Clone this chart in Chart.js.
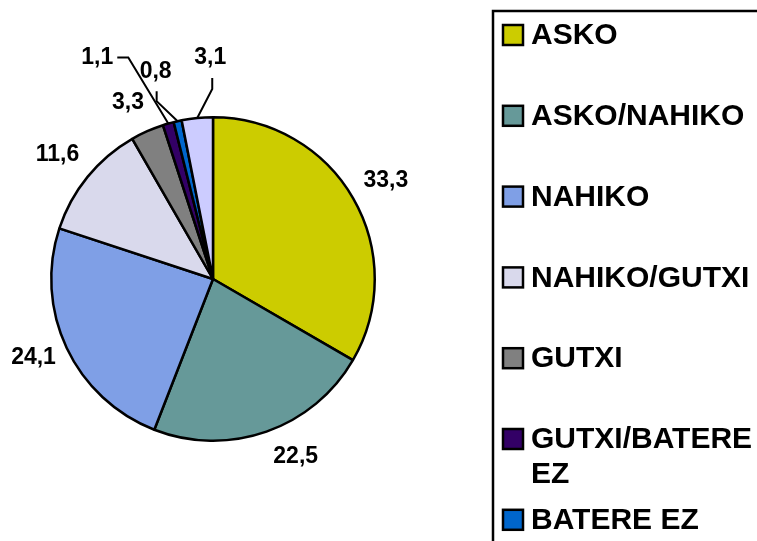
<!DOCTYPE html>
<html>
<head>
<meta charset="utf-8">
<script src="https://cdn.jsdelivr.net/npm/chart.js@4/dist/chart.umd.min.js"></script>
<style>
  html, body { margin: 0; padding: 0; background: #fff; }
  #wrap { width: 757px; height: 541px; position: relative; }
</style>
</head>
<body>
<div id="wrap"><canvas id="myChart" width="757" height="541"></canvas></div>
<script>
"use strict";

// answers, clockwise from 12 o'clock
const categories = ['ASKO', 'ASKO/NAHIKO', 'NAHIKO', 'NAHIKO/GUTXI', 'GUTXI', 'GUTXI/BATERE EZ', 'BATERE EZ', 'ED/EE'];
const percents = [33.3, 22.5, 24.1, 11.6, 3.3, 1.1, 0.8, 3.1];
const sliceColors = ['#cccc00', '#669999', '#7f9fe6', '#d9d9ec', '#808080', '#330066', '#0066cc', '#ccccff'];

const FONT = '"Liberation Sans", Arial, sans-serif';

// nudges for the plain labels, leader lines for the thin slices
const labelNudge = { 0: [-2, 2], 1: [16, -13], 2: [3, -7], 3: [1, 3], 4: [-3, 8] };
const leaders = {
	5: { elbow: [-40, -66], end: [-51, -66], text: [-71, -66] },
	6: { elbow: [-21, -20], end: [-21, -30], text: [-22, -50] },
	7: { elbow: [15, -29], end: [15, -40], text: [13, -60] }
};

const fmt = v => String(v).replace('.', ',');

const sliceLabels = {
	id: 'sliceLabels',
	afterDatasetsDraw(chart) {
		const ctx = chart.ctx;
		const arcs = chart.getDatasetMeta(0).data;
		ctx.save();
		ctx.font = 'bold 23px ' + FONT;
		ctx.fillStyle = '#000';
		ctx.strokeStyle = '#000';
		ctx.lineWidth = 2;
		ctx.textAlign = 'center';
		ctx.textBaseline = 'middle';
		arcs.forEach((arc, i) => {
			const mid = (arc.startAngle + arc.endAngle) / 2;
			const r = arc.outerRadius;
			const text = fmt(percents[i]);
			if (leaders[i]) {
				const ex = arc.x + Math.cos(mid) * r;
				const ey = arc.y + Math.sin(mid) * r;
				const L = leaders[i];
				ctx.beginPath();
				ctx.moveTo(ex, ey);
				ctx.lineTo(ex + L.elbow[0], ey + L.elbow[1]);
				ctx.lineTo(ex + L.end[0], ey + L.end[1]);
				ctx.stroke();
				ctx.fillText(text, ex + L.text[0], ey + L.text[1]);
			} else {
				const n = labelNudge[i] || [0, 0];
				const d = r + 40;
				ctx.fillText(text, arc.x + Math.cos(mid) * d + n[0], arc.y + Math.sin(mid) * d + n[1]);
			}
		});
		ctx.restore();
	}
};

// boxed legend on the right, long names wrap onto a second line
const sideLegend = {
	id: 'sideLegend',
	afterDraw(chart) {
		const ctx = chart.ctx;
		const W = chart.width;
		const boxX = 493, boxY = 11;
		ctx.save();
		ctx.lineWidth = 2.5;
		ctx.strokeStyle = '#000';
		ctx.strokeRect(boxX, boxY, W, chart.height);
		ctx.font = 'bold 30px ' + FONT;
		ctx.textBaseline = 'middle';
		ctx.textAlign = 'left';
		const textX = 531;
		const maxW = W - textX;
		categories.forEach((name, i) => {
			const y = 35 + i * 80.8;
			ctx.fillStyle = sliceColors[i];
			ctx.fillRect(503, y - 10, 20, 20);
			ctx.lineWidth = 2.5;
			ctx.strokeRect(503, y - 10, 20, 20);
			ctx.fillStyle = '#000';
			const words = name.split(' ');
			const lines = [];
			let line = '';
			words.forEach(w => {
				const t = line ? line + ' ' + w : w;
				if (line && ctx.measureText(t).width > maxW) { lines.push(line); line = w; } else { line = t; }
			});
			lines.push(line);
			lines.forEach((ln, k) => ctx.fillText(ln, textX, y + 1 + k * 35));
		});
		ctx.restore();
	}
};

const data = {
	labels: categories,
	datasets: [{
		data: percents,
		backgroundColor: sliceColors,
		borderColor: '#000',
		borderWidth: 2.5
	}]
};

const config = {
	type: 'pie',
	data: data,
	options: {
		responsive: false,
		animation: false,
		layout: { padding: { left: 50, right: 381, top: 116, bottom: 99 } },
		plugins: {
			legend: { display: false },
			tooltip: { enabled: false }
		}
	},
	plugins: [sliceLabels, sideLegend]
};

const myChart = new Chart(document.getElementById('myChart'), config);
</script>
</body>
</html>
